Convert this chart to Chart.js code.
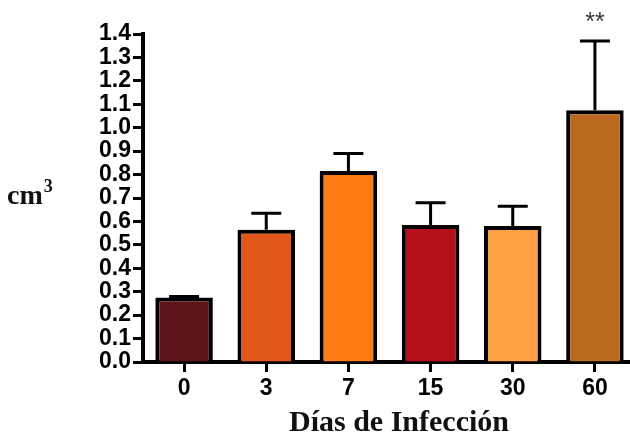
<!DOCTYPE html>
<html>
<head>
<meta charset="utf-8">
<script src="https://cdn.jsdelivr.net/npm/chart.js@4/dist/chart.umd.min.js"></script>
<style>
  html, body { margin: 0; padding: 0; background: #fff; overflow: hidden; }
  #wrap { width: 636px; height: 436px; }
</style>
</head>
<body>
<div id="wrap"><canvas id="c" width="636" height="436"></canvas></div>
<script>
// Volume (cm³) by days of infection, mean with upper error bar
const days = ['0', '3', '7', '15', '30', '60'];
const meanVolume = [0.275, 0.565, 0.815, 0.585, 0.58, 1.075];
const errorVolume = [0.005, 0.07, 0.075, 0.095, 0.085, 0.295];
const barColors = ['#5c1419', '#e2581b', '#ff7b14', '#b5111c', '#ffa044', '#b96a1f'];
const significance = ['', '', '', '', '', '**'];
const yTicks = [0, 0.1, 0.2, 0.3, 0.4, 0.5, 0.6, 0.7, 0.8, 0.9, 1.0, 1.1, 1.2, 1.3, 1.4];

// upper error bars, drawn beneath the bars so they start at the bar top
const errorBars = {
  id: 'errorBars',
  beforeDatasetsDraw(chart) {
    const { ctx, scales: { y } } = chart;
    const meta = chart.getDatasetMeta(0);
    ctx.save();
    ctx.strokeStyle = '#000';
    ctx.lineWidth = 3;
    meta.data.forEach((bar, i) => {
      const x = bar.x;
      const yMean = y.getPixelForValue(meanVolume[i]);
      const yUp = y.getPixelForValue(meanVolume[i] + errorVolume[i]);
      ctx.beginPath();
      ctx.moveTo(x, yMean);
      ctx.lineTo(x, yUp);
      ctx.moveTo(x - 15, yUp);
      ctx.lineTo(x + 15, yUp);
      ctx.stroke();
    });
    ctx.restore();
  },
  afterDatasetsDraw(chart) {
    const { ctx, scales: { y } } = chart;
    const meta = chart.getDatasetMeta(0);
    ctx.save();
    ctx.fillStyle = '#3a3a3a';
    ctx.font = '25px "Liberation Sans", Arial, sans-serif';
    ctx.textAlign = 'center';
    ctx.textBaseline = 'middle';
    meta.data.forEach((bar, i) => {
      if (!significance[i]) return;
      const yUp = y.getPixelForValue(meanVolume[i] + errorVolume[i]);
      ctx.fillText(significance[i], bar.x, yUp - 18);
    });
    ctx.restore();
  }
};

// axis titles: "cm³" beside the value axis, "Días de Infección" under the categories
const axisTitles = {
  id: 'axisTitles',
  afterDraw(chart) {
    const { ctx } = chart;
    ctx.save();
    ctx.fillStyle = '#111';
    ctx.textBaseline = 'alphabetic';
    ctx.textAlign = 'left';
    ctx.font = 'bold 28px "Liberation Serif", "Times New Roman", serif';
    ctx.fillText('cm', 7, 204);
    const w = ctx.measureText('cm').width;
    ctx.font = 'bold 18px "Liberation Serif", "Times New Roman", serif';
    ctx.fillText('3', 7 + w + 1, 192);
    ctx.textAlign = 'center';
    ctx.font = 'bold 30px "Liberation Serif", "Times New Roman", serif';
    ctx.fillText('Días de Infección', 399, 431);
    ctx.restore();
  }
};

new Chart(document.getElementById('c'), {
  type: 'bar',
  data: {
    labels: days,
    datasets: [{
      data: meanVolume,
      backgroundColor: barColors,
      borderColor: '#000',
      borderWidth: 4,
      borderSkipped: 'bottom',
      barPercentage: 0.70,
      categoryPercentage: 1.0
    }]
  },
  options: {
    responsive: false,
    animation: false,
    devicePixelRatio: 1,
    layout: { padding: { top: 34, right: 0, bottom: 0, left: 0 } },
    plugins: { legend: { display: false }, tooltip: { enabled: false } },
    scales: {
      x: {
        grid: { display: true, drawOnChartArea: false, drawTicks: true, offset: false,
                tickLength: 10, tickWidth: 3, tickColor: '#000', color: '#000' },
        border: { display: true, color: '#000', width: 4 },
        ticks: { color: '#000', padding: 3,
                 font: { family: '"Liberation Sans", Arial, sans-serif', size: 23, weight: 'bold' } },
        afterFit(scale) { scale.height = 74; }
      },
      y: {
        min: 0,
        max: 1.4,
        afterBuildTicks(scale) { scale.ticks = yTicks.map(v => ({ value: v })); },
        grid: { display: true, drawOnChartArea: false, drawTicks: true,
                tickLength: 10, tickWidth: 3, tickColor: '#000', color: '#000' },
        border: { display: true, color: '#000', width: 4 },
        ticks: { color: '#000', padding: 2, autoSkip: false,
                 callback: v => Number(v).toFixed(1),
                 font: { family: '"Liberation Sans", Arial, sans-serif', size: 23, weight: 'bold' } },
        afterFit(scale) { scale.width = 143; }
      }
    }
  },
  plugins: [errorBars, axisTitles]
});
</script>
</body>
</html>
